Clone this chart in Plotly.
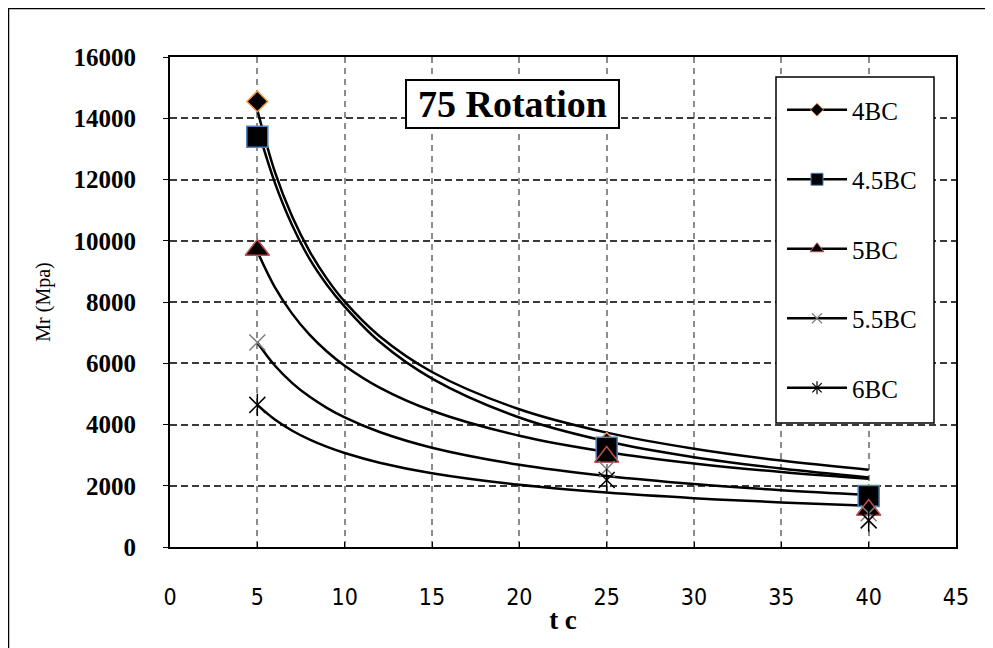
import plotly.graph_objects as go

# ---------------- data ----------------
series_names = ["4BC", "4.5BC", "5BC", "5.5BC", "6BC"]

# measured points
x_points = [5, 25, 40]
mr_4BC = [14550, 3400, 1700]
mr_45BC = [13400, 3240, 1665]
mr_5BC = [9700, 2940, 1210]
mr_55BC = [6680, 2550, 1100]
mr_6BC = [4640, 2190, 870]

# trend curves
x_curve = [5, 6, 7, 8, 9, 10, 12, 15, 20, 25, 30, 35, 40]
curve_4BC = [14270, 12259, 10782, 9647, 8746, 8011, 6881, 5715, 4497, 3734, 3208, 2821, 2524]
curve_45BC = [13700, 11900, 10500, 9400, 8550, 7850, 6700, 5500, 4230, 3450, 2930, 2560, 2267]
curve_5BC = [9650, 8486, 7612, 6927, 6376, 5920, 5206, 4448, 3631, 3102, 2728, 2447, 2228]
curve_55BC = [6680, 5925, 5353, 4903, 4537, 4233, 3755, 3242, 2683, 2317, 2055, 1856, 1701]
curve_6BC = [4640, 4162, 3797, 3506, 3269, 3070, 2754, 2410, 2031, 1778, 1595, 1455, 1344]

x_ticks = [0, 5, 10, 15, 20, 25, 30, 35, 40, 45]
y_ticks = [0, 2000, 4000, 6000, 8000, 10000, 12000, 14000, 16000]

# ---------------- figure ----------------
fig = go.Figure()

curves = [curve_4BC, curve_45BC, curve_5BC, curve_55BC, curve_6BC]
for c in curves:
    fig.add_trace(go.Scatter(x=x_curve, y=c, mode="lines", line=dict(color="black", width=2.5, shape="spline"),
                             showlegend=False, hoverinfo="skip"))

# markers
fig.add_trace(go.Scatter(x=x_points, y=mr_4BC, mode="markers", showlegend=False,
                         marker=dict(symbol="diamond", size=16, color="black", line=dict(color="#F79646", width=1.5))))
fig.add_trace(go.Scatter(x=x_points, y=mr_45BC, mode="markers", showlegend=False,
                         marker=dict(symbol="square", size=21, color="black", line=dict(color="#4F81BD", width=1.5))))
fig.add_trace(go.Scatter(x=x_points, y=mr_5BC, mode="markers", showlegend=False,
                         marker=dict(symbol="triangle-up", size=21, color="black", line=dict(color="#C0504D", width=1.5))))
fig.add_trace(go.Scatter(x=x_points, y=mr_55BC, mode="markers", showlegend=False,
                         marker=dict(symbol="x-thin", size=16, color="#7F7F7F", line=dict(color="#7F7F7F", width=1.5))))
fig.add_trace(go.Scatter(x=x_points, y=mr_6BC, mode="markers", showlegend=False,
                         marker=dict(symbol="x-thin", size=16, color="black", line=dict(color="black", width=1.5))))
fig.add_trace(go.Scatter(x=x_points, y=mr_6BC, mode="markers", showlegend=False,
                         marker=dict(symbol="line-ns", size=16, color="black", line=dict(color="black", width=1.5))))

# legend entries
legend_markers = [
    dict(symbol="diamond", size=10, color="black", line=dict(color="#F79646", width=1)),
    dict(symbol="square", size=12, color="black", line=dict(color="#4F81BD", width=1)),
    dict(symbol="triangle-up", size=12, color="black", line=dict(color="#C0504D", width=1)),
    dict(symbol="x-thin", size=10, color="#7F7F7F", line=dict(color="#7F7F7F", width=1.2)),
    dict(symbol="asterisk", size=11, color="black", line=dict(color="black", width=1.2)),
]
for name, mk in zip(series_names, legend_markers):
    fig.add_trace(go.Scatter(x=[None], y=[None], mode="lines+markers", name=name, legendgroup=name,
                             line=dict(color="black", width=2.5), marker=mk))

OFF = 8  # page offset of the figure
L, R, T, B = 170 - OFF, 37, 57 - OFF, 101
W, H = 993 - OFF, 648 - OFF
pw, ph = W - L - R, H - T - B

def px_x(px):
    return (px - OFF - L) / pw

def px_y(py):
    return (H - B - (py - OFF)) / ph

fig.update_layout(
    width=W, height=H,
    margin=dict(l=L, r=R, t=T, b=B),
    paper_bgcolor="white", plot_bgcolor="white",
    font=dict(family="Liberation Serif", color="black"),
    legend=dict(x=px_x(782), y=px_y(87), xanchor="left", yanchor="top",
                bgcolor="rgba(0,0,0,0)", borderwidth=0,
                font=dict(family="Liberation Serif", size=25, color="black"),
                tracegroupgap=34, itemwidth=60),
    annotations=[dict(text="<b>75 Rotation</b>", xref="paper", yref="paper",
                      x=px_x(512.5), y=px_y(103.5), xanchor="center", yanchor="middle",
                      showarrow=False, font=dict(family="Liberation Serif", size=38, color="black"),
                      width=207, height=42,
                      bgcolor="white", bordercolor="black", borderwidth=2, borderpad=2)],
    shapes=[
        dict(type="rect", xref="paper", yref="paper",
             x0=px_x(8), x1=px_x(990), y0=px_y(690), y1=px_y(8),
             line=dict(color="black", width=2.5), fillcolor="rgba(0,0,0,0)", layer="below"),
        dict(type="rect", xref="paper", yref="paper",
             x0=px_x(776), x1=px_x(934), y0=px_y(423), y1=px_y(77),
             line=dict(color="black", width=1.5), fillcolor="white", layer="above"),
    ],
)

fig.update_xaxes(range=[0, 45], tickvals=x_ticks, ticktext=[str(v) for v in x_ticks],
                 showline=True, linecolor="black", linewidth=2, mirror=True,
                 ticks="inside", ticklen=5, tickcolor="black",
                 showgrid=True, gridcolor="#8C8C8C", gridwidth=1.5, griddash="6px,5px",
                 zeroline=False,
                 tickfont=dict(family="Liberation Sans Narrow, DejaVu Sans Condensed, sans-serif", size=23, color="black"),
                 ticklabelstandoff=28,
                 title=dict(text="<b>t c</b>", font=dict(family="Liberation Serif", size=27, color="black"), standoff=2))
fig.update_yaxes(range=[0, 16000], tickvals=y_ticks, ticktext=[str(v) for v in y_ticks],
                 showline=True, linecolor="black", linewidth=2, mirror=True,
                 ticks="outside", ticklen=5, tickcolor="black",
                 showgrid=True, gridcolor="#3A3A3A", gridwidth=1.5, griddash="7px,4px",
                 zeroline=False,
                 tickfont=dict(family="Liberation Serif", size=25, color="black", weight="bold"),
                 ticklabelstandoff=22,
                 title=dict(text="Mr (Mpa)", font=dict(family="Liberation Serif", size=20, color="black"), standoff=18))

fig.write_html("out.html")
